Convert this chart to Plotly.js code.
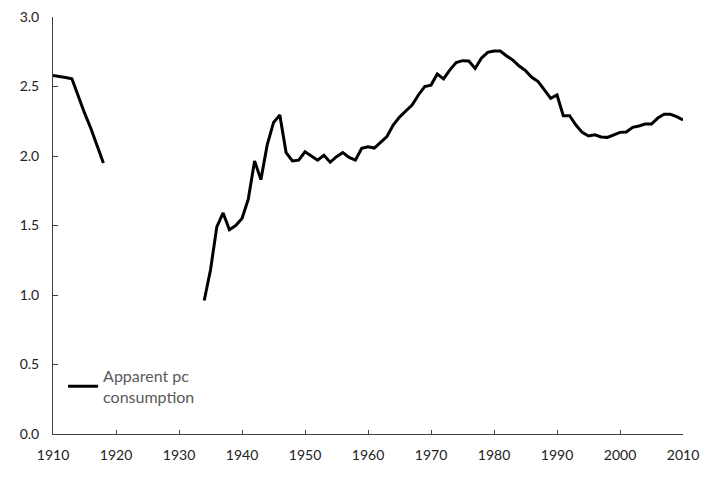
<!DOCTYPE html>
<html>
<head>
<meta charset="utf-8">
<script src="https://cdn.plot.ly/plotly-3.0.1.min.js"></script>
<style>html,body{margin:0;padding:0;background:#fff;}#chart{width:710px;height:477px;}</style>
</head>
<body>
<div id="chart"></div>
<script>
const years = [1910,1911,1912,1913,1914,1915,1916,1917,1918,1926,
  1934,1935,1936,1937,1938,1939,1940,1941,1942,1943,1944,1945,1946,1947,1948,1949,
  1950,1951,1952,1953,1954,1955,1956,1957,1958,1959,1960,1961,1962,1963,1964,1965,
  1966,1967,1968,1969,1970,1971,1972,1973,1974,1975,1976,1977,1978,1979,1980,1981,
  1982,1983,1984,1985,1986,1987,1988,1989,1990,1991,1992,1993,1994,1995,1996,1997,
  1998,1999,2000,2001,2002,2003,2004,2005,2006,2007,2008,2009,2010];
const consumption = [2.58,2.575,2.565,2.555,2.43,2.31,2.20,2.08,1.95,null,
  0.96,1.18,1.49,1.59,1.47,1.50,1.55,1.69,1.965,1.83,2.08,2.24,2.295,2.025,1.965,1.97,
  2.03,2.00,1.97,2.005,1.955,1.995,2.025,1.99,1.97,2.055,2.067,2.057,2.096,2.14,2.223,2.28,
  2.324,2.367,2.439,2.50,2.51,2.59,2.555,2.62,2.672,2.686,2.683,2.63,2.703,2.746,2.755,2.755,
  2.72,2.69,2.647,2.614,2.566,2.535,2.475,2.415,2.439,2.29,2.29,2.223,2.17,2.144,2.153,2.137,
  2.134,2.15,2.17,2.173,2.206,2.216,2.23,2.23,2.273,2.30,2.30,2.283,2.259];
const seriesName = 'Apparent pc<br>consumption';

const trace = {
  x: years, y: consumption, type: 'scatter', mode: 'lines', name: seriesName,
  connectgaps: false,
  line: {color: '#000000', width: 3}
};
const layout = {
  width: 710, height: 477,
  margin: {l: 53, r: 27, t: 17, b: 43},
  paper_bgcolor: '#ffffff', plot_bgcolor: '#ffffff',
  font: {family: 'Lato, "Open Sans", sans-serif', size: 14, color: '#222222'},
  showlegend: true,
  legend: {x: 0.016, y: 0.18, xanchor: 'left', yanchor: 'top', bgcolor: 'rgba(0,0,0,0)',
    font: {size: 16, color: '#595959'}},
  xaxis: {range: [1910, 2010], dtick: 10, tick0: 1910, showgrid: false, zeroline: false,
    showline: true, linecolor: '#404040', linewidth: 1, ticks: 'inside', ticklen: 4,
    tickcolor: '#404040', ticklabelstandoff: 8, tickfont: {size: 14, color: '#222222'}},
  yaxis: {range: [0, 3], dtick: 0.5, tickformat: '.1f', showgrid: false, zeroline: false,
    showline: true, linecolor: '#404040', linewidth: 1, ticks: 'inside', ticklen: 5,
    tickcolor: '#404040', ticklabelstandoff: 10, tickfont: {size: 14, color: '#222222'}}
};
Plotly.newPlot('chart', [trace], layout, {displayModeBar: false, staticPlot: true});
</script>
</body>
</html>
